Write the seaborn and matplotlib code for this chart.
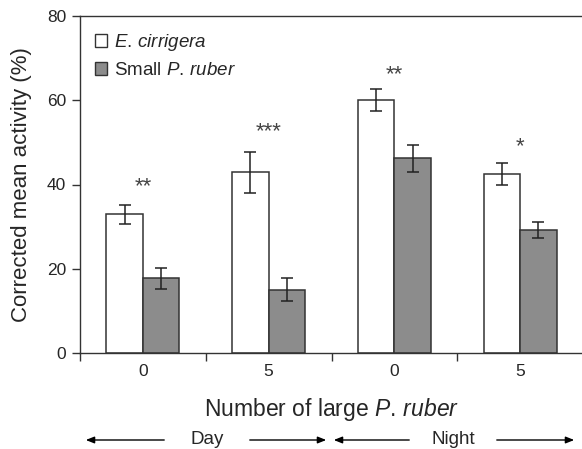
import matplotlib
matplotlib.use("Agg")
import matplotlib.pyplot as plt
import seaborn as sns
import pandas as pd
from matplotlib.patches import Patch

# ---- data ----
groups = ["Day 0", "Day 5", "Night 0", "Night 5"]
tick_labels = ["0", "5", "0", "5"]
species = ["E. cirrigera", "Small P. ruber"]
e_cirrigera = [32.9, 42.9, 60.1, 42.4]
e_cirrigera_err = [2.3, 4.85, 2.6, 2.6]
p_ruber = [17.7, 15.0, 46.2, 29.1]
p_ruber_err = [2.5, 2.75, 3.25, 1.9]
star_labels = ["**", "***", "**", "*"]
star_y = [39.5, 52.5, 66.0, 49.0]

df = pd.DataFrame({
    "group": groups * 2,
    "species": [species[0]] * 4 + [species[1]] * 4,
    "value": e_cirrigera + p_ruber,
})

sns.set_style("ticks")
plt.rcParams["font.family"] = ["Liberation Sans", "DejaVu Sans"]
plt.rcParams["mathtext.fontset"] = "custom"
plt.rcParams["mathtext.rm"] = "Liberation Sans"
plt.rcParams["mathtext.it"] = "Liberation Sans:italic"

edge = "#333333"
colors = {species[0]: "white", species[1]: "#8c8c8c"}

fig = plt.figure(figsize=(5.82, 4.49), dpi=100)
ax = fig.add_axes([80 / 582, 1 - 353 / 449, 503 / 582, 337 / 449])

sns.barplot(data=df, x="group", y="value", hue="species", hue_order=species,
            order=groups, palette=colors, width=0.58, edgecolor=edge,
            linewidth=1.1, errorbar=None, legend=False, ax=ax)

# error bars
errs = e_cirrigera_err + p_ruber_err
for p, e in zip(ax.patches, errs):
    xc = p.get_x() + p.get_width() / 2
    ax.errorbar(xc, p.get_height(), yerr=e, fmt="none", ecolor="#222222",
                elinewidth=1.1, capsize=4, capthick=1.1, zorder=5)

# significance stars
for i, (s, y) in enumerate(zip(star_labels, star_y)):
    ax.text(i, y, s, ha="center", va="center", fontsize=16, color="#444444")

ax.set_ylim(0, 80)
ax.set_xlim(-0.5, 3.5)
ax.set_yticks([0, 20, 40, 60, 80])
ax.set_xticks([-0.5, 0.5, 1.5, 2.5, 3.5])
ax.set_xticklabels([])
ax.set_xticks(range(4), minor=True)
ax.set_xticklabels(tick_labels, minor=True)
ax.tick_params(axis="x", which="major", length=6, width=1, direction="out", color=edge)
ax.tick_params(axis="x", which="minor", length=0, pad=8, labelsize=12.5)
ax.tick_params(axis="y", length=6, width=1, direction="out", pad=4, labelsize=12.5, color=edge)

for sp in ax.spines.values():
    sp.set_visible(True)
    sp.set_color(edge)
    sp.set_linewidth(1)

ax.set_ylabel("Corrected mean activity (%)", fontsize=16, labelpad=11)
ax.set_xlabel(r"Number of large $\it{P.\,ruber}$", fontsize=16.5, labelpad=12)

handles = [Patch(facecolor=colors[s], edgecolor=edge, linewidth=1) for s in species]
ax.legend(handles, [r"$\it{E.\,cirrigera}$", r"Small $\it{P.\,ruber}$"],
          loc="upper left", frameon=False, fontsize=13.5, handlelength=0.65,
          handleheight=0.65, handletextpad=0.35, labelspacing=0.5,
          bbox_to_anchor=(0.015, 0.975), borderaxespad=0)

# Day / Night arrows
ya = 9
arrow_kw = dict(arrowstyle="-|>,head_length=0.5,head_width=0.2", color="black", lw=1)
for (x0, x1) in [(167, 83), (247, 329), (412, 331), (494, 577)]:
    fig.add_artist(plt.Annotation("", xy=(x1, ya), xytext=(x0, ya),
                                  xycoords="figure pixels", textcoords="figure pixels",
                                  arrowprops=arrow_kw))
fig.text(207 / 582, ya / 449, "Day", ha="center", va="center", fontsize=13.5)
fig.text(453 / 582, ya / 449, "Night", ha="center", va="center", fontsize=13.5)

fig.savefig("out.png", dpi=100)
